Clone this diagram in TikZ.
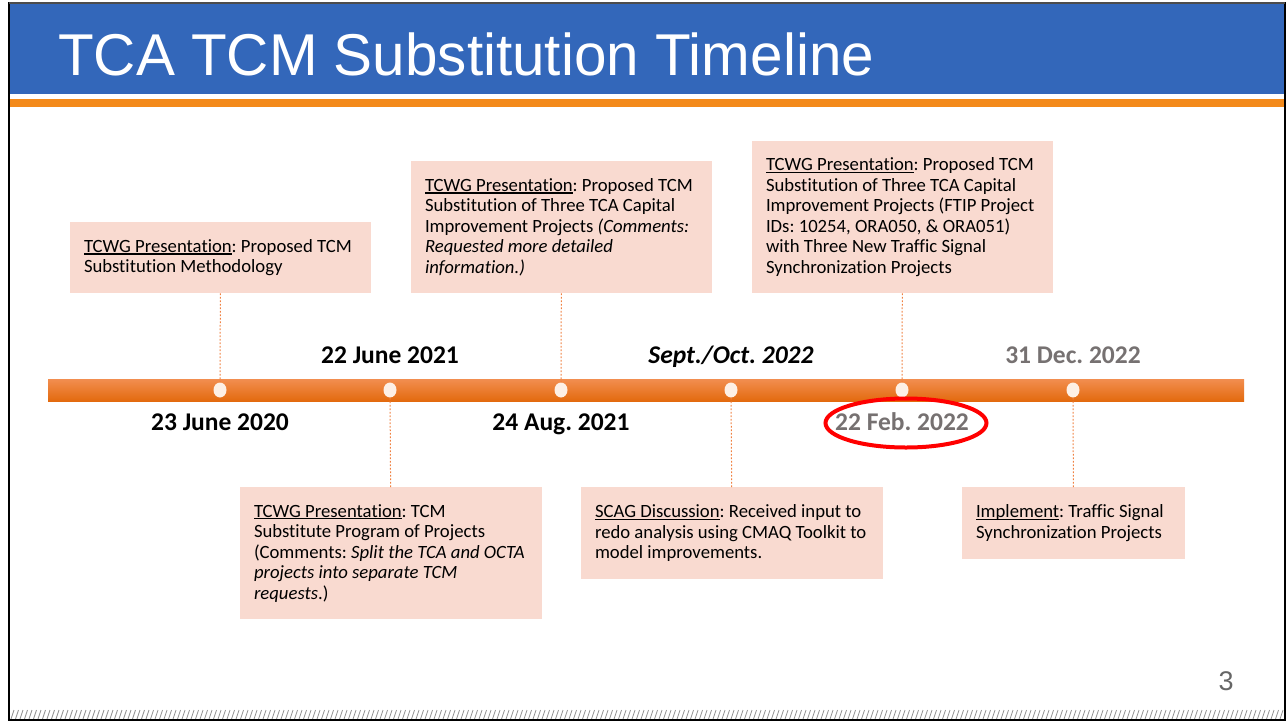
\documentclass[tikz,border=0pt]{standalone}
\usepackage{fontspec}
\usetikzlibrary{shapes.geometric}
\setmainfont{Carlito}[Ligatures=NoCommon]
\newfontfamily\titlefont[FakeStretch=0.99]{Liberation Sans}
\newfontfamily\numfont{Liberation Sans}
\definecolor{hdrblue}{HTML}{3367BA}
\definecolor{hdrorange}{HTML}{F38A1B}
\definecolor{boxfill}{HTML}{F9DAD0}
\definecolor{dotorange}{HTML}{F08040}
\definecolor{bartop}{HTML}{F28E50}
\definecolor{barbot}{HTML}{E36A0E}
\definecolor{dotfill}{HTML}{FDF0E6}
\definecolor{dategray}{HTML}{767171}
% underline at a fixed depth below the baseline
\newcommand\ulx[1]{\setbox0\hbox{#1}\rlap{\rule[-2.2pt]{\wd0}{1.3pt}}\box0}
\begin{document}
\frenchspacing
\begin{tikzpicture}[x=1pt,y=-1pt,
  eventbox/.style={rectangle, fill=boxfill, anchor=north, inner sep=0pt},
  eventtext/.style={anchor=west, xshift=14pt, inner sep=0pt, align=left,
    font=\fontsize{18.7}{20.5}\selectfont},
  markdot/.style={ellipse, fill=dotfill, minimum width=13pt, minimum height=15pt, inner sep=0pt},
  datelbl/.style={anchor=base, font=\fontsize{25.5}{28}\selectfont\bfseries, inner sep=0pt},
  link/.style={dotorange, line width=1pt, dash pattern=on 1.6pt off 1.9pt}]
\useasboundingbox (0,0) rectangle (1286,721);
\fill[white] (0,0) rectangle (1286,721);

% header band
\fill[hdrblue] (10,4) rectangle (1285,94);
\fill[hdrorange] (10,99) rectangle (1285,107);
\node[anchor=base west, inner sep=0pt, text=white,
  font=\titlefont\fontsize{59}{66}\selectfont] (title) at (58,75) {TCA TCM Substitution Timeline};

% slide frame and hatched foot strip
\foreach \x in {11,15.5,...,1282} \draw[gray!85, line width=0.8pt] (\x,719) -- (\x+3,710);
\draw[black, line width=2pt] (9,3) rectangle (1285,720);
\draw[black!70, line width=1.5pt] (9,3) -- (1285,3);

% timeline bar
\shade[top color=bartop, bottom color=barbot] (48,379) rectangle (1244,401);
\foreach \n/\x in {1/220,2/390,3/561,4/731,5/902,6/1073}
  \node[markdot] (d\n) at (\x,390) {};

% event boxes
\node[eventbox, minimum width=301pt, minimum height=71pt] (b1) at (220.5,222) {};
\node[eventbox, minimum width=301pt, minimum height=132pt] (b3) at (561.5,161) {};
\node[eventbox, minimum width=301pt, minimum height=152pt] (b5) at (902.5,141) {};
\node[eventbox, minimum width=302pt, minimum height=132pt] (b2) at (391,487) {};
\node[eventbox, minimum width=302pt, minimum height=92pt] (b4) at (732,487) {};
\node[eventbox, minimum width=223pt, minimum height=72pt] (b6) at (1073.5,487) {};

% event texts
\node[eventtext] (x1) at (b1.west)
  {\ulx{TCWG Presentation}: Proposed TCM\\ Substitution Methodology};
\node[eventtext] (x3) at (b3.west)
  {\ulx{TCWG Presentation}: Proposed TCM\\ Substitution of Three TCA Capital\\ Improvement Projects \textit{(Comments:}\\ \textit{Requested more detailed}\\ \textit{information.)}};
\node[eventtext] (x5) at (b5.west)
  {\ulx{TCWG Presentation}: Proposed TCM\\ Substitution of Three TCA Capital\\ Improvement Projects (FTIP Project\\ IDs: 10254, ORA050, \& ORA051)\\ with Three New Traffic Signal\\ Synchronization Projects};
\node[eventtext] (x2) at (b2.west)
  {\ulx{TCWG Presentation}: TCM\\ Substitute Program of Projects\\ (Comments: \textit{Split the TCA and OCTA}\\ \textit{projects into separate TCM}\\ \textit{requests}.)};
\node[eventtext] (x4) at (b4.west)
  {\ulx{SCAG Discussion}: Received input to\\ redo analysis using CMAQ Toolkit to\\ model improvements.};
\node[eventtext] (x6) at (b6.west)
  {\ulx{Implement}: Traffic Signal\\ Synchronization Projects};

% dotted leaders
\foreach \n in {1,...,6} \draw[link] (b\n) -- (d\n);

% date labels
\node[datelbl] (t1) at (220,430) {23 June 2020};
\node[datelbl] (t2) at (390,363) {22 June 2021};
\node[datelbl] (t3) at (561,430) {24 Aug. 2021};
\node[datelbl, font=\fontsize{25.5}{28}\selectfont\bfseries\itshape] (t4) at (731,363) {Sept./Oct. 2022};
\node[datelbl, text=dategray] (t5) at (902,430) {22 Feb. 2022};
\node[datelbl, text=dategray] (t6) at (1073,363) {31 Dec. 2022};
\node[draw=red, line width=4pt, ellipse, minimum width=161pt, minimum height=49pt, inner sep=0pt] (ring) at (906,423) {};

% page number
\node[anchor=base, inner sep=0pt, text=black!60, font=\numfont\fontsize{27}{30}\selectfont] (pg) at (1226,690) {3};
\end{tikzpicture}
\end{document}
